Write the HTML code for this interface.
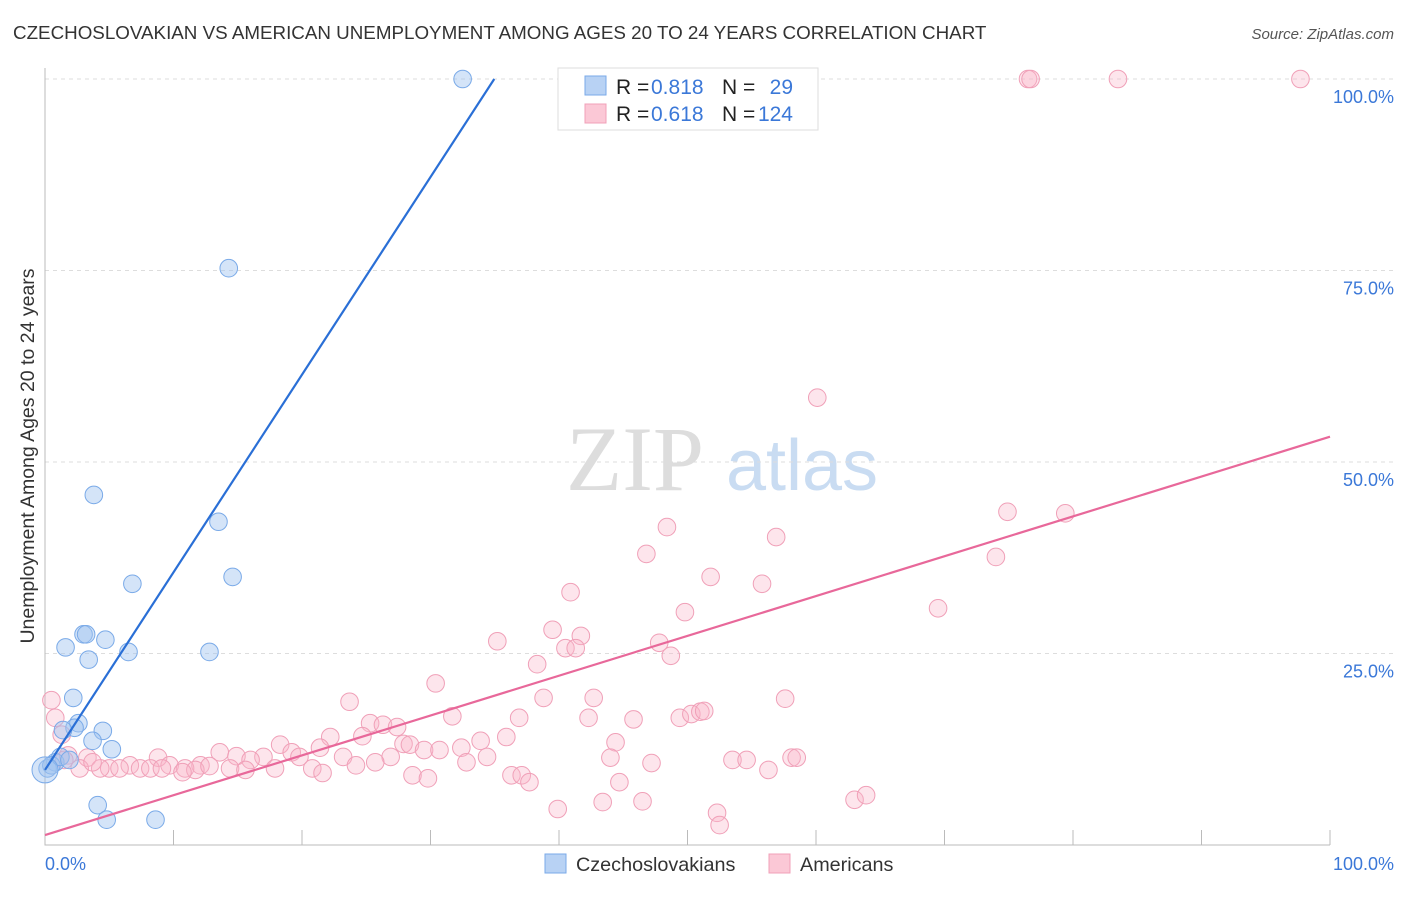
<!DOCTYPE html>
<html><head><meta charset="utf-8"><style>
body{margin:0;background:#fff;font-family:"Liberation Sans",sans-serif}
</style></head><body>
<svg id="chart" width="1406" height="892" xmlns="http://www.w3.org/2000/svg" font-family="Liberation Sans, sans-serif">
<text x="13" y="39" font-size="18.8" fill="#333">CZECHOSLOVAKIAN VS AMERICAN UNEMPLOYMENT AMONG AGES 20 TO 24 YEARS CORRELATION CHART</text>
<text x="1394" y="39" font-size="15" fill="#555" text-anchor="end" font-style="italic">Source: ZipAtlas.com</text>
<g>
<text x="635" y="490" font-size="92" fill="#ddd" font-family="Liberation Serif, serif" text-anchor="middle">ZIP</text>
<text x="802" y="490" font-size="72" fill="#c9dcf2" text-anchor="middle">atlas</text></g>
<g id="grid"></g><g id="axes"></g>
<g id="pink"></g><g id="blue"></g><g id="lines"></g>
<text transform="translate(34,456) rotate(-90)" font-size="19.5" fill="#333" text-anchor="middle">Unemployment Among Ages 20 to 24 years</text>
<text x="45" y="870" font-size="18" fill="#3b78d8">0.0%</text>
<text x="1394" y="870" font-size="18" fill="#3b78d8" text-anchor="end">100.0%</text>
<g font-size="21">
<rect x="558" y="68" width="260" height="62" fill="#fff" stroke="#ddd"/>
<rect x="585" y="76" width="21" height="19" fill="#b8d2f4" stroke="#7aaae8"/>
<rect x="585" y="104" width="21" height="19" fill="#fbc8d6" stroke="#f0a0b8"/>
<text x="616" y="94" fill="#222">R =</text><text x="651" y="94" fill="#3b78d8">0.818</text>
<text x="722" y="94" fill="#222">N =</text><text x="793" y="94" fill="#3b78d8" text-anchor="end">29</text>
<text x="616" y="121" fill="#222">R =</text><text x="651" y="121" fill="#3b78d8">0.618</text>
<text x="722" y="121" fill="#222">N =</text><text x="793" y="121" fill="#3b78d8" text-anchor="end">124</text></g>
<g>
<rect x="545" y="854" width="21" height="19" fill="#b8d2f4" stroke="#7aaae8"/>
<text x="576" y="871" font-size="19.8" fill="#333">Czechoslovakians</text>
<rect x="769" y="854" width="21" height="19" fill="#fbc8d6" stroke="#f0a0b8"/>
<text x="800" y="871" font-size="19.8" fill="#333">Americans</text></g>
</svg>
<script>
const yTicks=[25,50,75,100];
const yTickLabels=["25.0%","50.0%","75.0%","100.0%"];
const xTicks=[10,20,30,40,50,60,70,80,90,100];
const blueX=[32.5,14.3,3.8,13.5,6.8,14.6,3.0,3.2,4.7,1.6,6.5,12.8,3.4,2.2,2.6,2.3,4.5,1.4,3.7,5.2,0.8,0.2,0.5,4.1,4.8,8.6,1.2,0,1.9];
const blueY=[100,75.3,45.7,42.2,34.1,35,27.5,27.5,26.8,25.8,25.2,25.2,24.2,19.2,15.9,15.3,14.9,15,13.6,12.5,10.8,10,10.4,5.2,3.3,3.3,11.5,9.8,11.1];
const pinkX=[76.5,76.7,83.5,97.7,60.1,74.9,79.4,48.4,46.8,56.9,74,51.8,55.8,40.9,69.5,49.8,39.5,41.7,35.2,40.5,41.3,47.8,48.7,38.3,30.4,0.5,23.7,38.8,42.7,57.6,0.8,31.7,36.9,42.3,45.8,49.4,50.3,51,51.3,25.3,26.3,27.4,1.3,22.2,35.9,44.4,33.9,27.9,28.4,18.3,21.4,32.4,29.5,30.7,24.7,19.2,13.6,14.9,17,19.8,23.2,26.9,34.4,8.8,1.8,3.3,44,53.5,54.6,58.1,58.5,47.2,32.8,25.7,24.2,16,12.1,9.7,6.6,5,2.7,4.3,5.8,7.4,8.2,10.9,11.7,12.8,14.4,15.6,17.9,20.8,21.6,10.7,28.6,29.8,36.3,37.1,37.7,44.7,56.3,39.9,43.4,46.5,52.3,52.5,63,63.9,3.7,9.1,1.5];
const pinkY=[100,100,100,100,58.4,43.5,43.3,41.5,38,40.2,37.6,35,34.1,33,30.9,30.4,28.1,27.3,26.6,25.7,25.7,26.4,24.7,23.6,21.1,18.9,18.7,19.2,19.2,19.1,16.6,16.8,16.6,16.6,16.4,16.6,17.1,17.4,17.5,15.9,15.7,15.4,14.4,14.1,14.1,13.4,13.6,13.2,13.1,13.1,12.7,12.7,12.4,12.4,14.2,12.1,12.1,11.6,11.5,11.5,11.5,11.5,11.5,11.4,11.7,11.4,11.4,11.1,11.1,11.4,11.4,10.7,10.8,10.8,10.4,11.1,10.4,10.4,10.4,10,10,10,10,10,10,10,9.8,10.3,10,9.8,10,10,9.4,9.5,9.1,8.7,9.1,9.1,8.2,8.2,9.8,4.7,5.6,5.7,4.2,2.6,5.9,6.5,10.8,10,11.1];
const blueFit=[9.8,2.58];
const pinkFit=[1.3,0.52];
const NS="http://www.w3.org/2000/svg";
const X=v=>45+v*12.85, Y=v=>845-v*7.66;
function mk(t,a,p){const e=document.createElementNS(NS,t);for(const k in a)e.setAttribute(k,a[k]);document.getElementById(p).appendChild(e);return e;}
yTicks.forEach((t,i)=>{
 const l=mk('line',{x1:45,x2:1394,y1:Y(t),y2:Y(t),stroke:'#ddd','stroke-dasharray':'4,4'},'grid');
 
 
 const tx=mk('text',{x:1394,y:Y(t)+24,'font-size':18,fill:'#3b78d8','text-anchor':'end'},'axes');
 tx.textContent=yTickLabels[i];
 
 
});
const ax=mk('path',{d:'M45,68V845H1330',stroke:'#bbb',fill:'none'},'axes');


xTicks.forEach(t=>{
 const l=mk('line',{x1:X(t),x2:X(t),y1:830,y2:845,stroke:'#bbb'},'axes');
 
 
});
pinkX.forEach((x,i)=>{
 const c=mk('circle',{cx:X(x),cy:Y(pinkY[i]),r:8.8,fill:'rgba(248,180,200,0.35)',stroke:'#f0a0b8','stroke-width':1},'pink');
 
 
});
blueX.forEach((x,i)=>{
 const c=mk('circle',{cx:X(x),cy:Y(blueY[i]),r:i==27?13:8.8,fill:'rgba(160,195,240,0.45)',stroke:'#7aaae8','stroke-width':1},'blue');
 
 
});
const bx2=(100-blueFit[0])/blueFit[1];
const bl=mk('line',{x1:X(0),y1:Y(blueFit[0]),x2:X(bx2),y2:Y(100),stroke:'#2a6fd6','stroke-width':2.2},'lines');


const pl=mk('line',{x1:X(0),y1:Y(pinkFit[0]),x2:X(100),y2:Y(pinkFit[0]+pinkFit[1]*100),stroke:'#e8689a','stroke-width':2.2},'lines');


</script>
</body></html>
